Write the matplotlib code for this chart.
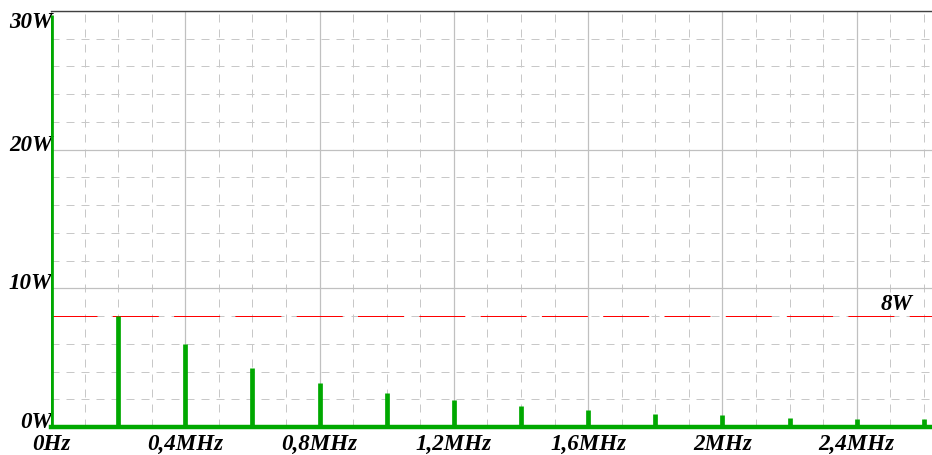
import matplotlib
matplotlib.use("Agg")
import matplotlib.pyplot as plt

# spectrum lines: frequency (MHz) and power (W)
freq_mhz = [0.0, 0.2, 0.4, 0.6, 0.8, 1.0, 1.2, 1.4, 1.6, 1.8, 2.0, 2.2, 2.4, 2.6]
power_w = [29.7, 8.0, 6.0, 4.25, 3.2, 2.45, 1.92, 1.5, 1.25, 0.96, 0.89, 0.67, 0.58, 0.55]

level_w = 8
level_label = "8W"

xticks = [0.0, 0.4, 0.8, 1.2, 1.6, 2.0, 2.4]
xtick_labels = ["0Hz", "0,4MHz", "0,8MHz", "1,2MHz", "1,6MHz", "2MHz", "2,4MHz"]
yticks = [0, 10, 20, 30]
ytick_labels = ["0W", "10W", "20W", "30W"]

green = "#00a800"
font = dict(family="Liberation Serif", style="italic", weight="bold", size=16.6)

fig = plt.figure(figsize=(9.32, 4.56), dpi=100)
ax = fig.add_axes([51 / 932, 28 / 456, 881 / 932, 416 / 456])
ax.set_xlim(0, 2.624)
ax.set_ylim(0, 30)

# grid
ax.set_xticks([i * 0.1 for i in range(27)], minor=True)
ax.set_yticks(range(0, 31, 2), minor=True)
ax.grid(which="minor", color="#c8c8c8", lw=0.72, linestyle=(0, (8, 7)))
ax.grid(which="major", color="#c0c0c0", lw=0.9, linestyle="-")
ax.set_axisbelow(True)

ax.set_xticks(xticks)
ax.set_xticklabels(xtick_labels, fontdict=font)
ax.set_yticks(yticks)
ax.set_yticklabels(ytick_labels, fontdict=font, va="baseline")
ax.get_yticklabels()[-1].set_va("top")
ax.tick_params(which="both", length=0)
ax.tick_params(axis="x", pad=4)
ax.tick_params(axis="y", pad=-1)

for s in ["left", "right", "bottom"]:
    ax.spines[s].set_visible(False)
ax.spines["top"].set_color("#404040")
ax.spines["top"].set_linewidth(1.0)

# 8W level
ax.axhline(level_w, color="red", lw=0.72, linestyle=(0, (46, 15.3)), zorder=2)
ax.annotate(level_label, xy=(1, level_w), xycoords=ax.get_yaxis_transform(),
            xytext=(-14, 5), textcoords="offset points",
            ha="right", va="baseline", **font)

# spectrum
ax.vlines(freq_mhz, 0, power_w, color=green, lw=3.4, capstyle="butt", zorder=3)
ax.axhline(0, color=green, lw=3.2, zorder=3, clip_on=False)

fig.savefig("out.png", dpi=100)
